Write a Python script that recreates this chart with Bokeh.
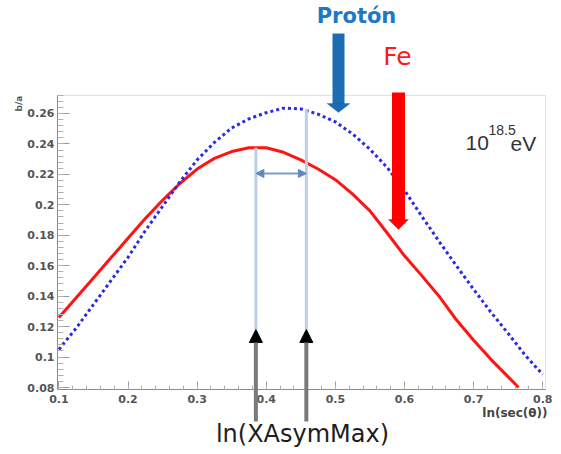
import math
from bokeh.plotting import figure
from bokeh.models import Range1d, FixedTicker, Label, Arrow, NormalHead, PolyAnnotation, BoxAnnotation
from bokeh.embed import file_html
from bokeh.resources import INLINE

# ---- data ----
x_fe = [0.100, 0.125, 0.150, 0.175, 0.200, 0.225, 0.250, 0.275, 0.300, 0.325, 0.350, 0.375,
        0.400, 0.425, 0.450, 0.475, 0.500, 0.525, 0.550, 0.575, 0.600, 0.625, 0.650, 0.675,
        0.700, 0.725, 0.750, 0.765]
y_fe = [0.126, 0.139, 0.152, 0.165, 0.178, 0.191, 0.203, 0.214, 0.2235, 0.2305, 0.235, 0.2375,
        0.2375, 0.2345, 0.2295, 0.2235, 0.2165, 0.207, 0.196, 0.1815, 0.1665, 0.1535, 0.140, 0.1245,
        0.111, 0.0985, 0.087, 0.080]

x_p = [0.100, 0.125, 0.150, 0.175, 0.200, 0.225, 0.250, 0.275, 0.300, 0.325, 0.350, 0.375,
       0.400, 0.425, 0.450, 0.475, 0.500, 0.525, 0.550, 0.575, 0.600, 0.625, 0.650, 0.675,
       0.700, 0.725, 0.750, 0.775, 0.800]
y_p = [0.105, 0.119, 0.1345, 0.150, 0.1655, 0.183, 0.199, 0.215, 0.2295, 0.241, 0.2505, 0.2565,
       0.2605, 0.2635, 0.263, 0.2595, 0.2545, 0.2465, 0.2365, 0.2245, 0.2095, 0.1925, 0.176, 0.160,
       0.1445, 0.1295, 0.1155, 0.101, 0.0885]

xasym_max = [0.385, 0.458]      # Fe, proton
xasym_top = [0.2375, 0.263]     # curve value at the maximum
marker_y = 0.2206               # level of the double arrow

x_ticks = [0.1, 0.2, 0.3, 0.4, 0.5, 0.6, 0.7, 0.8]
x_tick_labels = ["0.1", "0.2", "0.3", "0.4", "0.5", "0.6", "0.7", "0.8"]
y_ticks = [0.08, 0.10, 0.12, 0.14, 0.16, 0.18, 0.20, 0.22, 0.24, 0.26]
y_tick_labels = ["0.08", "0.1", "0.12", "0.14", "0.16", "0.18", "0.2", "0.22", "0.24", "0.26"]

# ---- layout ----
W, H = 561, 454
X0, X1 = 0.098, 0.804
Y0, Y1 = 0.0787, 0.2718
FL, FR, FT, FB = 57, 545, 95, 389   # inner plot box in page pixels


def dx(px):
    return X0 + (px - FL) * (X1 - X0) / (FR - FL)


def dy(py):
    return Y1 - (py - FT) * (Y1 - Y0) / (FB - FT)


p = figure(width=W, height=H, title=None,
           x_range=Range1d(dx(0), dx(W)), y_range=Range1d(dy(H), dy(0)),
           output_backend="svg", toolbar_location=None, min_border=0)
p.background_fill_color = "white"
p.border_fill_color = "white"
p.outline_line_color = None
p.xgrid.visible = False
p.ygrid.visible = False

# box of the plot area
p.add_layout(BoxAnnotation(left=X0, right=X1, bottom=Y0, top=Y1,
                           fill_alpha=0, line_color="#9a9a9a", line_width=1, level="underlay"))

minor_x = [round(0.1 + 0.02 * i, 3) for i in range(36)]
minor_y = [round(0.08 + 0.004 * i, 4) for i in range(49)]
p.xaxis.ticker = FixedTicker(ticks=x_ticks, minor_ticks=minor_x)
p.yaxis.ticker = FixedTicker(ticks=y_ticks, minor_ticks=minor_y)
p.xaxis.major_label_overrides = dict(zip(x_ticks, x_tick_labels))
p.yaxis.major_label_overrides = dict(zip(y_ticks, y_tick_labels))
p.xaxis.fixed_location = Y0
p.yaxis.fixed_location = X0
p.xaxis.bounds = (X0, X1)
p.yaxis.bounds = (Y0, Y1)

for ax in (p.xaxis[0], p.yaxis[0]):
    ax.axis_line_color = "#8a8a8a"
    ax.major_tick_line_color = "#9a9a9a"
    ax.minor_tick_line_color = "#b0b0b0"
    ax.major_tick_in = 12
    ax.major_tick_out = 0
    ax.minor_tick_in = 6
    ax.minor_tick_out = 0
    ax.major_label_text_font = "DejaVu Sans"
    ax.major_label_text_font_style = "bold"
    ax.major_label_text_font_size = "11px"
    ax.major_label_text_color = "#555555"
p.xaxis.major_tick_in = 8
p.xaxis.minor_tick_in = 4
p.xaxis.major_label_standoff = 5
p.yaxis.major_label_standoff = 3

# ---- curves ----
p.line(x_fe, y_fe, line_color="#ff1414", line_width=3)
p.line(x_p, y_p, line_color="#2a2ae6", line_width=3, line_dash="3 3")

# ---- XAsymMax markers ----
tip_y = dy(329)
p.segment(x0=xasym_max, y0=[tip_y] * 2, x1=xasym_max, y1=xasym_top,
          line_color="#bccfe7", line_width=3)
p.add_layout(Arrow(x_start=xasym_max[0], y_start=marker_y, x_end=xasym_max[1], y_end=marker_y,
                   line_color="#7c9cc6", line_width=2,
                   start=NormalHead(size=8, fill_color="#5f87bd", line_color="#5f87bd"),
                   end=NormalHead(size=8, fill_color="#5f87bd", line_color="#5f87bd")))
for xa in xasym_max:
    p.add_layout(Arrow(x_start=xa, y_start=dy(421), x_end=xa, y_end=tip_y,
                       line_color="#7a7a7a", line_width=4,
                       end=NormalHead(size=13, fill_color="black", line_color="black")))


# ---- thick arrows at the top ----
def big_arrow(cx_px, top_px, base_px, tip_px, half_px, shaft_w, color, edge):
    cx = dx(cx_px)
    p.add_layout(Arrow(x_start=cx, y_start=dy(top_px), x_end=cx, y_end=dy(base_px + 1),
                       line_color=color, line_width=shaft_w, end=None))
    p.add_layout(PolyAnnotation(xs=[dx(cx_px - half_px), dx(cx_px + half_px), cx],
                                ys=[dy(base_px), dy(base_px), dy(tip_px)],
                                fill_color=color, fill_alpha=1.0,
                                line_color=edge, line_width=1))


big_arrow(338, 33, 103, 112, 11.5, 12, "#1c6cb4", "#155a98")
big_arrow(398, 92, 219, 229, 10, 13, "#ff0000", "#c00000")


# ---- texts (py is the visual baseline; the renderer sits text ~0.43em lower) ----
def label(px, py, text, size, color, font="DejaVu Sans", style="normal", align="left", angle=0.0):
    shift = 0.43 * size
    if angle:
        x, y = px - shift, py
    else:
        x, y = px, py - shift
    p.add_layout(Label(x=dx(x), y=dy(y), text=text, text_align=align, angle=angle,
                       text_baseline="alphabetic", text_font=font, text_font_style=style,
                       text_font_size=f"{size}px", text_color=color))


label(356, 25, "Protón", 21, "#1e78c8", style="bold", align="center")
label(397, 67, "Fe", 25, "#ff1a1a", align="center")
label(465, 152, "10", 21, "#333333", font="Liberation Sans")
label(488, 136, "18.5", 14, "#333333", font="Liberation Sans")
label(510, 152, "eV", 21, "#333333", font="Liberation Sans")
label(302, 444, "ln(XAsymMax)", 24, "#1e1e1e", align="center")
label(547, 418, "ln(sec(θ))", 12, "#444444", style="bold", align="right")
label(22, 111, "b/a", 9, "#555555", style="bold", angle=math.pi / 2)

open("out.html", "w").write(file_html(p, INLINE))
